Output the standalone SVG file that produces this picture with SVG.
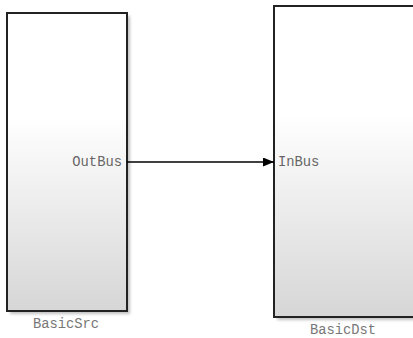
<svg xmlns="http://www.w3.org/2000/svg" width="413" height="338" viewBox="0 0 413 338">
<defs>
<linearGradient id="g" x1="0" y1="0" x2="0" y2="1">
<stop offset="0" stop-color="#ffffff"/>
<stop offset="0.35" stop-color="#ffffff"/>
<stop offset="1" stop-color="#d6d6d6"/>
</linearGradient>
<filter id="sh" x="-10%" y="-10%" width="130%" height="130%">
<feGaussianBlur stdDeviation="1.5"/>
</filter>
<marker id="ah" markerWidth="12" markerHeight="10" refX="11" refY="4.5" orient="auto" markerUnits="userSpaceOnUse">
<path d="M0,0 L11,4.5 L0,9 Z" fill="#000"/>
</marker>
</defs>
<style>
.blk{fill:url(#g);stroke:#222;stroke-width:2}
.shd{fill:#999;opacity:0.6;filter:url(#sh)}
.port{font-family:"Courier New","Liberation Mono",monospace;font-size:13.8px;fill:#666}
.name{font-family:"Courier New","Liberation Mono",monospace;font-size:13.8px;fill:#777;text-anchor:middle}
</style>
<rect width="413" height="338" fill="#fff"/>
<g id="BasicSrc">
<rect class="shd" x="10" y="16" width="120" height="298"/>
<rect class="blk" x="7" y="13" width="120" height="298"/>
<text class="port" x="122" y="166" text-anchor="end">OutBus</text>
<text class="name" x="66" y="328">BasicSrc</text>
</g>
<g id="BasicDst">
<rect class="shd" x="277" y="9" width="140" height="311"/>
<rect class="blk" x="274" y="6" width="142" height="311"/>
<text class="port" x="278" y="166">InBus</text>
<text class="name" x="343" y="334">BasicDst</text>
</g>
<g id="connectors">
<line x1="127" y1="162" x2="274" y2="162" stroke="#000" stroke-width="1.5" marker-end="url(#ah)"/>
</g>
</svg>
